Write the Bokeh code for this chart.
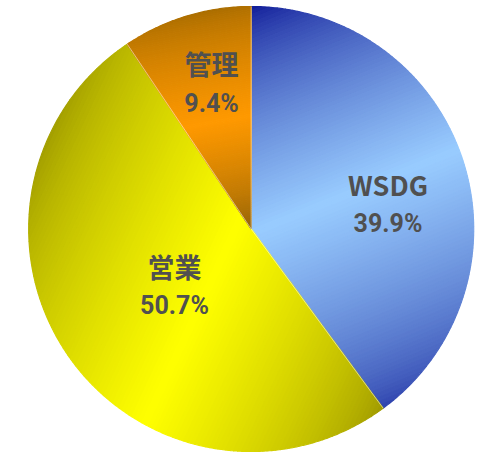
import math
import numpy as np
from bokeh.plotting import figure
from bokeh.models import ColumnDataSource, Range1d
from bokeh.core.properties import value
from bokeh.embed import file_html
from bokeh.resources import INLINE

# ---- data ----
categories = ["WSDG", "営業", "管理"]
shares = [39.9, 50.7, 9.4]
pct_labels = ["39.9%", "50.7%", "9.4%"]

# ---- styles (linear gradient per slice: dark -> light -> dark) ----
grad_dir_deg = [68, 25, 80]          # gradient direction on screen (deg below +x)
dark_start = [(14, 24, 150), (160, 156, 0), (168, 108, 0)]
dark_end = [(45, 65, 172), (158, 152, 0), (140, 96, 8)]
light_colors = [(153, 204, 255), (255, 255, 0), (255, 153, 0)]
GAMMA = 0.7

# ---- layout (screen pixels) ----
W, H = 478, 453
CX, CY_S, R = 250.7, 228.5, 222.5
label_pos = [(387.5, 184, 223), (174, 266, 305), (211, 63, 103)]
NAME_FONT = "Noto Sans CJK JP"
PCT_FONT = "Roboto"

total = float(sum(shares))
fracs = [s / total for s in shares]
cum = np.concatenate([[0.0], np.cumsum(fracs)])


def to_angle(c):
    return math.pi / 2 - 2 * math.pi * c


def pt(c, r):
    a = to_angle(c)
    return (CX + r * math.cos(a), CY_S - r * math.sin(a))


def clip(poly, f, keep_ge):
    out = []
    n = len(poly)
    for i in range(n):
        P, Q = poly[i], poly[(i + 1) % n]
        fp, fq = f(P), f(Q)
        if not keep_ge:
            fp, fq = -fp, -fq
        if fp >= 0:
            out.append(P)
        if (fp >= 0) != (fq >= 0):
            s = fp / (fp - fq)
            out.append((P[0] + s * (Q[0] - P[0]), P[1] + s * (Q[1] - P[1])))
    return out


xs_all, ys_all, cols = [], [], []
NS = 110
for i in range(len(shares)):
    c0, c1 = cum[i], cum[i + 1]
    th = math.radians(grad_dir_deg[i])
    dx, dy = math.cos(th), math.sin(th)
    cs = np.linspace(c0, c1, 600)
    pts = [pt(c, R) for c in cs] + [(CX, CY_S)]
    proj = [q[0] * dx + q[1] * dy for q in pts]
    pmin, pmax = min(proj), max(proj)

    def tfun(q, dx=dx, dy=dy, pmin=pmin, pmax=pmax):
        return (q[0] * dx + q[1] * dy - pmin) / (pmax - pmin)

    D0 = np.array(dark_start[i], float)
    D1 = np.array(dark_end[i], float)
    L = np.array(light_colors[i], float)
    nsub = max(1, int(math.ceil((c1 - c0) * 360 / 60)))
    for k in range(nsub):
        a0 = c0 + (c1 - c0) * k / nsub
        a1 = c0 + (c1 - c0) * (k + 1) / nsub
        npts = max(3, int((a1 - a0) * 360 * 2))
        poly = [(CX, CY_S)] + [pt(a0 + (a1 - a0) * j / npts, R) for j in range(npts + 1)]
        for s_i in range(NS):
            lo, hi = s_i / NS, (s_i + 1) / NS
            q = clip(poly, lambda p, lo=lo: tfun(p) - lo, True)
            if len(q) < 3:
                continue
            q = clip(q, lambda p, hi=hi: tfun(p) - hi, False)
            if len(q) < 3:
                continue
            tm = (lo + hi) / 2
            s = (1 - abs(2 * tm - 1)) ** GAMMA
            D = D0 if tm < 0.5 else D1
            col = D + s * (L - D)
            xs_all.append([p[0] for p in q])
            ys_all.append([H - p[1] for p in q])
            cols.append("#%02x%02x%02x" % tuple(int(round(x)) for x in col))

src = ColumnDataSource(dict(xs=xs_all, ys=ys_all, color=cols))

p = figure(width=W, height=H, x_range=Range1d(0, W), y_range=Range1d(0, H),
           output_backend="svg", toolbar_location=None, min_border=0,
           x_axis_location=None, y_axis_location=None,
           margin=(0, 0, 0, 0))
p.grid.visible = False
p.outline_line_color = None
p.background_fill_color = "white"
p.border_fill_color = "white"

p.patches(xs="xs", ys="ys", source=src, fill_color="color",
          line_color="color", line_width=1.2)

CY = H - CY_S
sep_x0, sep_y0, sep_x1, sep_y1 = [], [], [], []
for i in range(len(shares)):
    ang = to_angle(cum[i])
    sep_x0.append(CX)
    sep_y0.append(CY)
    sep_x1.append(CX + R * math.cos(ang))
    sep_y1.append(CY + R * math.sin(ang))
p.segment(x0=sep_x0, y0=sep_y0, x1=sep_x1, y1=sep_y1,
          line_color="white", line_alpha=0.5, line_width=1)

lab = ColumnDataSource(dict(
    x=[lp[0] for lp in label_pos],
    y1=[H - lp[1] for lp in label_pos],
    y2=[H - lp[2] for lp in label_pos],
    name=categories,
    pct=pct_labels,
))
p.text(x="x", y="y1", text="name", source=lab,
       text_font=value(NAME_FONT), text_font_size="27px",
       text_font_style="bold", text_color="#505050",
       text_align="center", text_baseline="middle")
p.text(x="x", y="y2", text="pct", source=lab,
       text_font=value(PCT_FONT), text_font_size="25px",
       text_font_style="bold", text_color="#505050",
       text_align="center", text_baseline="middle")

open("out.html", "w").write(file_html(p, INLINE))
